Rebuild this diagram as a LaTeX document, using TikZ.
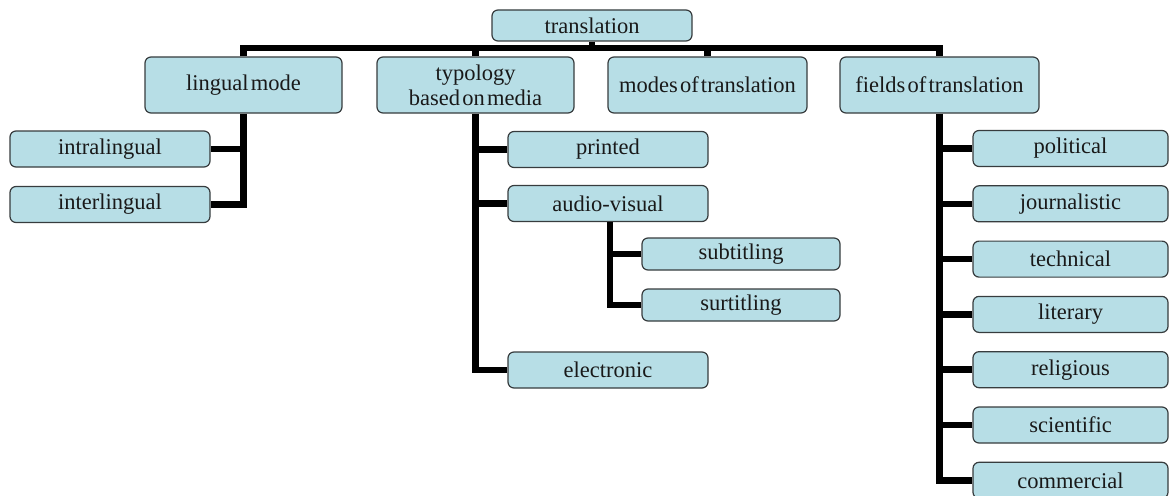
\documentclass[tikz,border=0pt]{standalone}
\usepackage{fontspec}
\setmainfont[WordSpace=0.4]{Liberation Serif}
\begin{document}
\definecolor{boxfill}{RGB}{183,222,230}
\definecolor{boxline}{RGB}{55,60,62}
\begin{tikzpicture}[x=1pt,y=-1pt,
  box/.style={draw=boxline,line width=1.2pt,fill=boxfill,rounded corners=6pt,
    minimum width=#1,minimum height=36pt,inner sep=0pt,text=black!90,
    font=\fontsize{22.5}{25}\selectfont,align=center},
  box/.default=200pt,
  conn/.style={line width=6.5pt,black,line join=miter,line cap=butt}]
\useasboundingbox (0,0) rectangle (1169,495);

% root and first level
\node[box=200pt,minimum height=31pt] (translation) at (592,25.5) {translation};
\node[box=197pt,minimum height=56pt] (lingual) at (243.5,85) {lingual mode};
\node[box=197pt,minimum height=56pt] (typology) at (475.5,85) {typology\\based on media};
\node[box=199pt,minimum height=56pt] (modes) at (707.5,85) {modes of translation};
\node[box=199pt,minimum height=56pt] (fields) at (939.5,85) {fields of translation};

% lingual mode branch
\node[box] (intra) at (110,149) {intralingual};
\node[box] (inter) at (110,204.5) {interlingual};

% media branch
\node[box] (printed) at (608,149.5) {printed};
\node[box] (audio) at (608,203.5) {audio-visual};
\node[box=198pt,minimum height=32pt] (subt) at (741,254) {subtitling};
\node[box=198pt,minimum height=32pt] (surt) at (741,305) {surtitling};
\node[box] (elec) at (608,370) {electronic};

% fields branch
\node[box=195pt,minimum height=36pt] (pol) at (1070.5,148.5) {political};
\node[box=195pt,minimum height=36pt] (jour) at (1070.5,203.8) {journalistic};
\node[box=195pt,minimum height=36pt] (tech) at (1070.5,259.1) {technical};
\node[box=195pt,minimum height=36pt] (lit) at (1070.5,314.4) {literary};
\node[box=195pt,minimum height=36pt] (rel) at (1070.5,369.7) {religious};
\node[box=195pt,minimum height=36pt] (sci) at (1070.5,425) {scientific};
\node[box=195pt,minimum height=36pt] (com) at (1070.5,480.3) {commercial};

% connectors
\coordinate (bar) at (592,48);
\draw[conn] (lingual.north) |- (bar) -| (fields.north);
\draw[conn] (translation.south) -- (bar);
\draw[conn] (typology.north) -- (typology.north |- bar);
\draw[conn] (modes.north) -- (modes.north |- bar);

\draw[conn] (lingual.south) |- (inter.east);
\draw[conn] (intra.east) -- (intra.east -| lingual.south);

\draw[conn] (typology.south) |- (elec.west);
\draw[conn] (printed.west) -- (printed.west -| typology.south);
\draw[conn] (audio.west) -- (audio.west -| typology.south);

\coordinate (avdrop) at ([xshift=2pt]audio.south);
\draw[conn] (avdrop) |- (surt.west);
\draw[conn] (subt.west) -- (subt.west -| avdrop);

\draw[conn] (fields.south) |- (com.west);
\foreach \n in {pol,jour,tech,lit,rel,sci}
  \draw[conn] (\n.west) -- (\n.west -| fields.south);
\end{tikzpicture}
\end{document}
